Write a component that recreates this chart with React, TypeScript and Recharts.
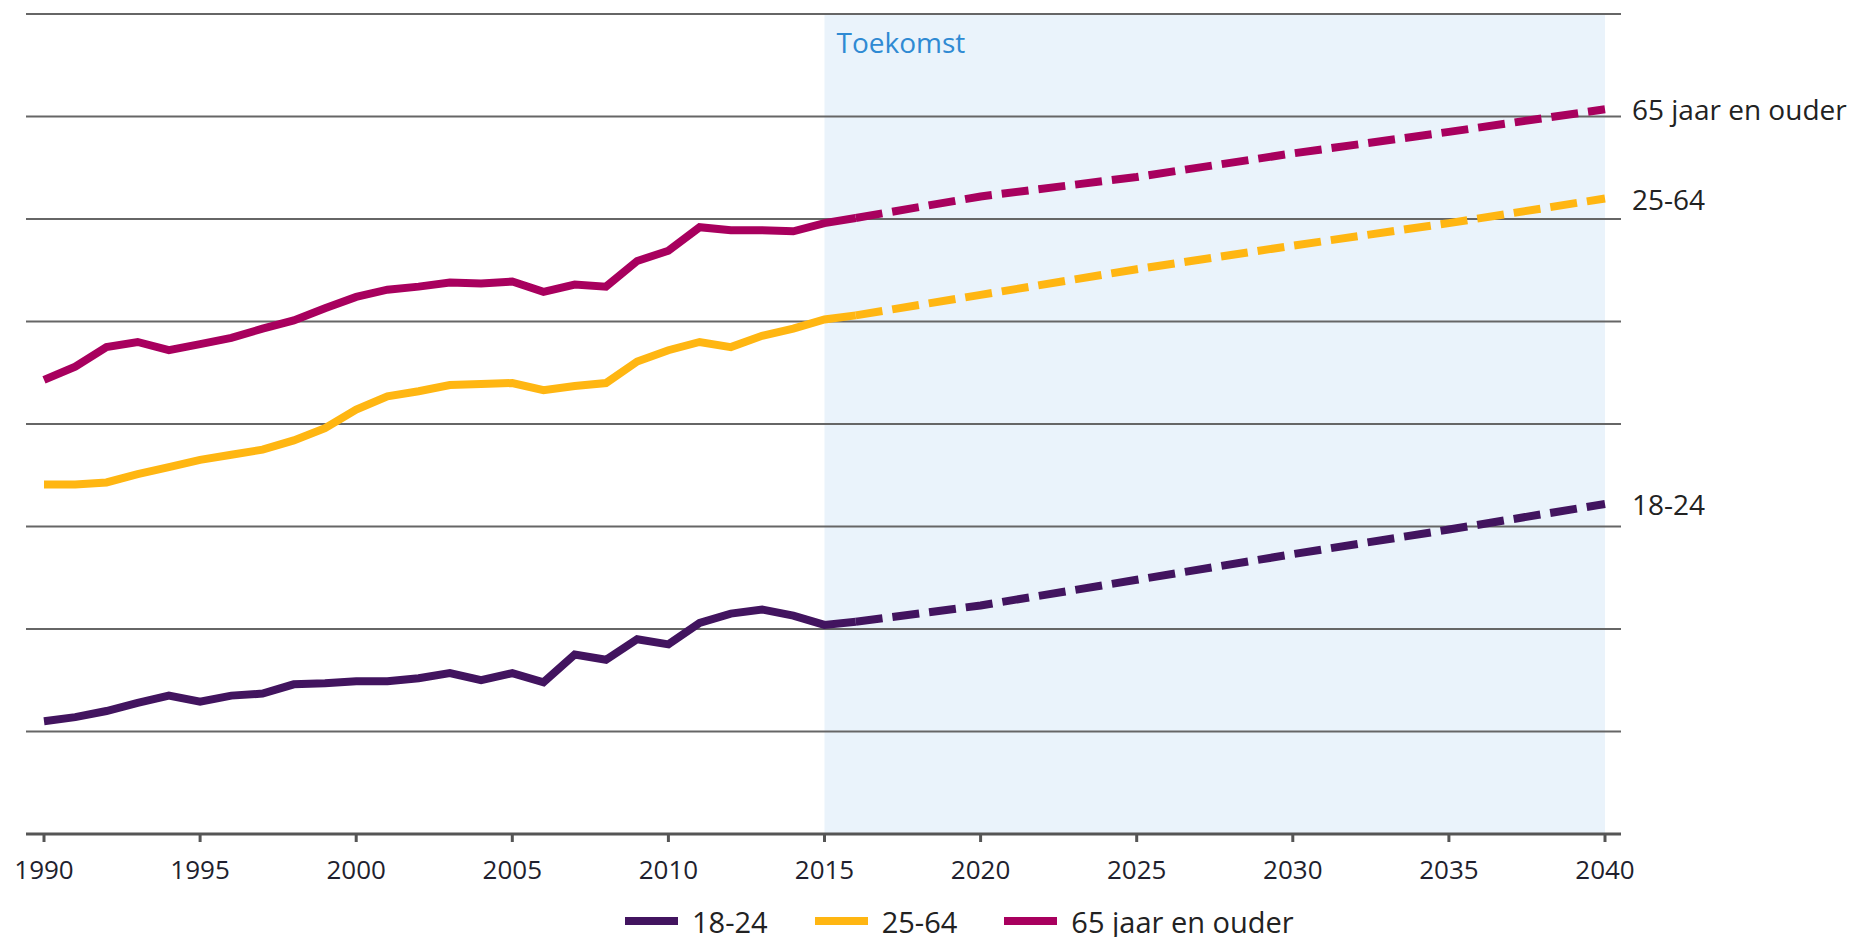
import React from 'react'
import { LineChart, Line, XAxis, YAxis, CartesianGrid, ReferenceArea, LabelList } from 'recharts'

const histYears = [1990,1991,1992,1993,1994,1995,1996,1997,1998,1999,2000,2001,2002,2003,2004,2005,2006,2007,2008,2009,2010,2011,2012,2013,2014,2015,2016]
const age18_24 = [1.10,1.14,1.20,1.28,1.35,1.29,1.35,1.37,1.46,1.47,1.49,1.49,1.52,1.57,1.50,1.57,1.48,1.75,1.70,1.90,1.85,2.06,2.15,2.19,2.13,2.04,2.07]
const age25_64 = [3.41,3.41,3.43,3.51,3.58,3.65,3.70,3.75,3.84,3.96,4.14,4.27,4.32,4.38,4.39,4.40,4.33,4.37,4.40,4.61,4.72,4.80,4.75,4.86,4.93,5.02,5.06]
const age65plus = [4.43,4.56,4.75,4.80,4.72,4.78,4.84,4.93,5.01,5.13,5.24,5.31,5.34,5.38,5.37,5.39,5.29,5.36,5.34,5.59,5.69,5.92,5.89,5.89,5.88,5.96,6.01]

const projYears = [2016,2020,2025,2030,2035,2040]
const proj18_24 = [2.07,2.23,2.48,2.73,2.97,3.22]
const proj25_64 = [5.06,5.26,5.51,5.74,5.96,6.20]
const proj65plus = [6.01,6.22,6.41,6.64,6.85,7.07]

const xTicks = [1990,1995,2000,2005,2010,2015,2020,2025,2030,2035,2040]
const yTicks = [0,1,2,3,4,5,6,7,8]
const seriesNames = ['18-24','25-64','65 jaar en ouder']
const COLORS = ['#42145F','#FFB612','#A8005E']
const FONT = '"Open Sans", sans-serif'

const hist = histYears.map((year,i)=>({ year, a: age18_24[i], b: age25_64[i], c: age65plus[i] }))
const proj = projYears.map((year,i)=>({ year, a: proj18_24[i], b: proj25_64[i], c: proj65plus[i] }))

const endLabel = (name: string) => (p: any) => {
  if (p.index !== proj.length - 1) return null
  return (
    <text x={p.x + 27} y={p.y} dominantBaseline="central" fill="#222" fontSize={28} fontFamily={FONT}>{name}</text>
  )
}

// label in the projection band
const futureLabel = (p: any) => {
  const vb = p.viewBox || {}
  return <text x={vb.x + 12} y={vb.y + 39} fill="#2F8AD3" fontSize={28} fontFamily={FONT}>Toekomst</text>
}

export default function App(){
  const keys = ['a','b','c']
  return (
    <div style={{ position:'absolute', left:0, top:0, width:1849, height:937, background:'#fff' }}>
      <LineChart width={1849} height={937} margin={{ top:14, right:228, bottom:73, left:26 }}>
        <ReferenceArea x1={2015} x2={2040} y1={0} y2={8} fill="#EAF3FB" fillOpacity={1} stroke="none" zIndex={-150}
          label={futureLabel} />
        <CartesianGrid vertical={false} stroke="#666" strokeWidth={2} />
        <XAxis type="number" dataKey="year" domain={[1990,2040]} ticks={xTicks} padding={{ left:18, right:16 }}
          stroke="#555" strokeWidth={3} tickSize={8} tickMargin={19}
          tick={{ fill:'#1f1f2e', fontSize:26, fontFamily:FONT }} allowDuplicatedCategory={false} />
        <YAxis hide domain={[0,8]} ticks={yTicks} />
        {keys.map((k,i)=>(
          <Line key={'h'+k} data={hist} dataKey={k} type="linear" stroke={COLORS[i]} strokeWidth={8}
            dot={false} activeDot={false} isAnimationActive={false} />
        ))}
        {keys.map((k,i)=>(
          <Line key={'p'+k} data={proj} dataKey={k} type="linear" stroke={COLORS[i]} strokeWidth={8}
            strokeDasharray="27 10" dot={false} activeDot={false} isAnimationActive={false}>
            <LabelList dataKey={k} content={endLabel(seriesNames[i])} />
          </Line>
        ))}
      </LineChart>
      <div style={{ position:'absolute', left:625, top:903, height:36, display:'flex', alignItems:'center', fontFamily:FONT, fontSize:29, color:'#222' }}>
        {seriesNames.map((n,i)=>(
          <div key={n} style={{ display:'flex', alignItems:'center', marginRight:47 }}>
            <span style={{ width:53, height:8, background:COLORS[i], marginRight:14, display:'inline-block' }}></span>
            {n}
          </div>
        ))}
      </div>
    </div>
  )
}
